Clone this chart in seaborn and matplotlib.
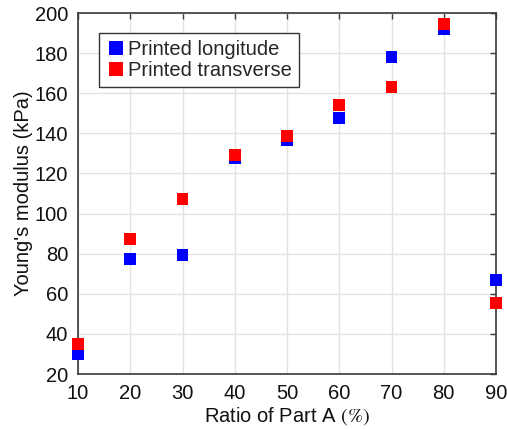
import matplotlib
matplotlib.use("Agg")
import matplotlib.pyplot as plt
import seaborn as sns
import pandas as pd

ratio = [10, 20, 30, 40, 50, 60, 70, 80, 90]
longitude = [30, 77.2, 79.3, 127.5, 136.5, 147.5, 178, 192, 66.7]
transverse = [35, 87.2, 107.4, 129.3, 138.5, 154.1, 162.9, 194.7, 55.3]
series_names = ["Printed longitude", "Printed transverse"]
xticks = [10, 20, 30, 40, 50, 60, 70, 80, 90]
yticks = [20, 40, 60, 80, 100, 120, 140, 160, 180, 200]

df = pd.DataFrame({
    "ratio": ratio * 2,
    "modulus": longitude + transverse,
    "series": [series_names[0]] * len(ratio) + [series_names[1]] * len(ratio),
})

sns.set_style("white")
plt.rcParams["font.family"] = ["Liberation Sans", "DejaVu Sans"]
plt.rcParams["mathtext.fontset"] = "stix"

FS = 14.5
fig = plt.figure(figsize=(5.07, 4.29), dpi=100)
ax = fig.add_axes([78 / 507, 1 - 374 / 429, (496 - 78) / 507, (374 - 13) / 429])

sns.scatterplot(data=df, x="ratio", y="modulus", hue="series",
                palette={series_names[0]: "#0000ff", series_names[1]: "#ff0000"},
                marker="s", s=74, linewidth=0, ax=ax, zorder=3, legend=True,
                clip_on=False)

ax.set_xlim(10, 90)
ax.set_ylim(20, 200)
ax.set_xticks(xticks)
ax.set_yticks(yticks)
ax.grid(True, color="#e2e2e2", linewidth=1.0, zorder=0)
ax.set_axisbelow(True)
for sp in ax.spines.values():
    sp.set_color("#3a3a3a")
    sp.set_linewidth(1.2)
ax.tick_params(direction="in", length=4, width=1, colors="#3a3a3a",
               labelcolor="#111111", labelsize=FS, top=True, right=True, pad=7)

ax.set_xlabel(r"Ratio of Part A $\mathrm{(\%)}$", fontsize=FS, color="#111111", labelpad=2)
ax.set_ylabel("Young's modulus (kPa)", fontsize=FS, color="#111111", labelpad=1)

leg = ax.legend(loc="upper left", bbox_to_anchor=(0.05, 0.945), borderaxespad=0,
                fontsize=FS, frameon=True, fancybox=False, handletextpad=0.1,
                handlelength=1.0, borderpad=0.35, labelspacing=0.1, markerscale=1.1)
leg.get_frame().set_edgecolor("#333333")
leg.get_frame().set_linewidth(1.0)
leg.get_frame().set_alpha(1)

fig.savefig("out.png", dpi=100)
